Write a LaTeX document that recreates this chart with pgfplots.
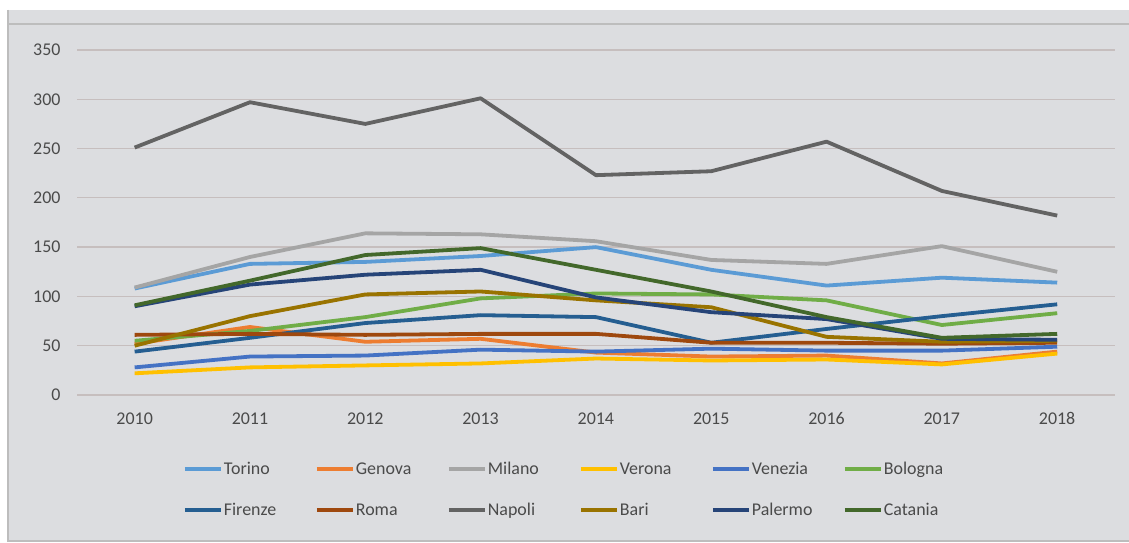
\documentclass[border=0pt]{standalone}
\usepackage{pgfplots}
\pgfplotsset{compat=1.18}
\usepackage{fontspec}
\setmainfont{Carlito}
\definecolor{bgc}{HTML}{DCDDE0}
\definecolor{framec}{HTML}{BDBDBD}
\definecolor{gridc}{HTML}{C6BEBE}
\definecolor{txtc}{HTML}{4A4A4A}
\definecolor{cTorino}{HTML}{5B9BD5}
\definecolor{cGenova}{HTML}{ED7D31}
\definecolor{cMilano}{HTML}{A5A5A5}
\definecolor{cVerona}{HTML}{FFC000}
\definecolor{cVenezia}{HTML}{4472C4}
\definecolor{cBologna}{HTML}{70AD47}
\definecolor{cFirenze}{HTML}{255E91}
\definecolor{cRoma}{HTML}{9E480E}
\definecolor{cNapoli}{HTML}{636363}
\definecolor{cBari}{HTML}{997300}
\definecolor{cPalermo}{HTML}{264478}
\definecolor{cCatania}{HTML}{43682B}
\begin{document}
\begin{tikzpicture}[x=1bp,y=1bp]
\path[use as bounding box] (0,0) rectangle (1129,543);
\fill[white] (0,0) rectangle (1129,543);
\fill[bgc] (8,2) rectangle (1129,533);
\draw[framec, line width=1.5bp] (8,519) -- (1129,519);
\draw[framec, line width=1.5bp] (8,533) -- (8,2) -- (1129,2);
\begin{axis}[
  at={(77bp,148bp)}, anchor=south west,
  scale only axis, width=1038bp, height=345bp,
  xmin=2009.5, xmax=2018.5, ymin=0, ymax=350,
  xtick={2010,...,2018}, ytick={0,50,...,350},
  xticklabel style={/pgf/number format/1000 sep={}},
  /pgf/number format/assume math mode=true,
  axis line style={draw=none},
  tick style={draw=none},
  ymajorgrids, grid style={gridc, line width=1.3bp},
  font=\fontsize{18}{21}\selectfont,
  tick label style={text=txtc, font=\fontsize{18}{21}\selectfont},
  yticklabel style={xshift=-13bp},
  xticklabel style={yshift=-14bp, text height=12bp, text depth=0bp},
  every axis plot/.append style={line width=3.8bp, line join=round, no markers},
  legend style={at={(0.4836,-0.275)}, anchor=center, draw=none, fill=none,
    legend columns=6, row sep=25bp, text=txtc,
    font=\fontsize{18}{21}\selectfont,
    nodes={inner sep=1bp, text width=90bp, align=left},
    /tikz/every even column/.append style={column sep=0bp}},
  legend image code/.code={\draw[#1, line width=4bp] (0bp,0bp) -- (36bp,0bp);},
]
\addplot[cTorino] coordinates {(2010,108)(2011,133)(2012,135)(2013,141)(2014,150)(2015,127)(2016,111)(2017,119)(2018,114)};
\addlegendentry{Torino}
\addplot[cGenova] coordinates {(2010,52)(2011,69)(2012,54)(2013,57)(2014,43)(2015,39)(2016,40)(2017,32)(2018,44)};
\addlegendentry{Genova}
\addplot[cMilano] coordinates {(2010,109)(2011,140)(2012,164)(2013,163)(2014,156)(2015,137)(2016,133)(2017,151)(2018,125)};
\addlegendentry{Milano}
\addplot[cVerona] coordinates {(2010,22)(2011,28)(2012,30)(2013,32)(2014,37)(2015,35)(2016,36)(2017,31)(2018,42)};
\addlegendentry{Verona}
\addplot[cVenezia] coordinates {(2010,28)(2011,39)(2012,40)(2013,46)(2014,44)(2015,47)(2016,45)(2017,45)(2018,49)};
\addlegendentry{Venezia}
\addplot[cBologna] coordinates {(2010,55)(2011,65)(2012,79)(2013,98)(2014,103)(2015,102)(2016,96)(2017,71)(2018,83)};
\addlegendentry{Bologna}
\addplot[cFirenze] coordinates {(2010,44)(2011,58)(2012,73)(2013,81)(2014,79)(2015,53)(2016,67)(2017,80)(2018,92)};
\addlegendentry{Firenze}
\addplot[cRoma] coordinates {(2010,61)(2011,62)(2012,61)(2013,62)(2014,62)(2015,53)(2016,53)(2017,52)(2018,53)};
\addlegendentry{Roma}
\addplot[cNapoli] coordinates {(2010,251)(2011,297)(2012,275)(2013,301)(2014,223)(2015,227)(2016,257)(2017,207)(2018,182)};
\addlegendentry{Napoli}
\addplot[cBari] coordinates {(2010,50)(2011,80)(2012,102)(2013,105)(2014,96)(2015,89)(2016,59)(2017,54)(2018,55)};
\addlegendentry{Bari}
\addplot[cPalermo] coordinates {(2010,90)(2011,112)(2012,122)(2013,127)(2014,99)(2015,84)(2016,77)(2017,57)(2018,56)};
\addlegendentry{Palermo}
\addplot[cCatania] coordinates {(2010,91)(2011,116)(2012,142)(2013,149)(2014,127)(2015,105)(2016,79)(2017,58)(2018,62)};
\addlegendentry{Catania}
\end{axis}
\end{tikzpicture}
\end{document}
